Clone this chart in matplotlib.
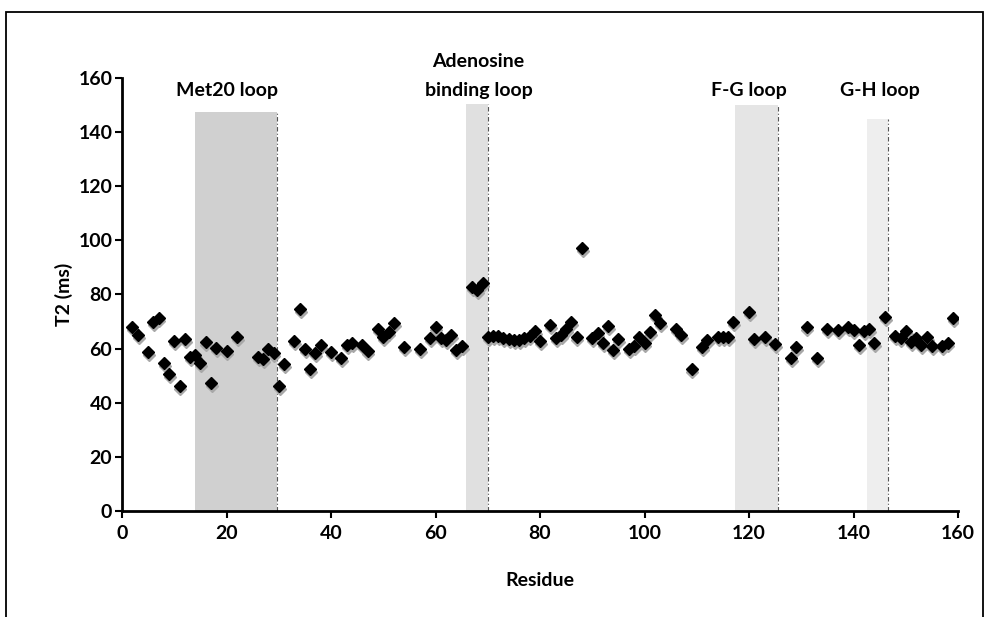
import matplotlib
matplotlib.use("Agg")
import matplotlib.pyplot as plt
import matplotlib.transforms as mtransforms
from matplotlib.patches import Rectangle

plt.rcParams['font.family'] = ['Lato', 'DejaVu Sans']

# T2 relaxation per residue
residue = [2, 3, 5, 6, 7, 8, 9, 10, 11, 12, 13, 14, 15, 16, 17, 18, 20, 22,
           26, 27, 28, 29, 30, 31, 33, 34, 35, 36, 37, 38, 40, 42, 43, 44, 46,
           47, 49, 50, 51, 52, 54, 57, 59, 60, 61, 62, 63, 64, 65, 67, 68, 69,
           70, 71, 72, 73, 74, 75, 76, 77, 78, 79, 80, 82, 83, 84, 85, 86, 87,
           88, 90, 91, 92, 93, 94, 95, 97, 98, 99, 100, 101, 102, 103, 106,
           107, 109, 111, 112, 114, 115, 116, 117, 120, 121, 123, 125, 128,
           129, 131, 133, 135, 137, 139, 140, 141, 142, 143, 144, 146, 148,
           149, 150, 151, 152, 153, 154, 155, 157, 158, 159]
t2_ms = [68.1, 64.9, 58.9, 70.0, 71.4, 54.6, 50.6, 62.7, 46.2, 63.4, 57.0,
         57.6, 54.6, 62.5, 47.4, 60.4, 59.2, 64.4,
         57.0, 56.2, 59.9, 58.3, 46.3, 54.5, 63.0, 74.8, 59.9, 52.4, 58.3,
         61.3, 58.9, 56.4, 61.3, 62.2, 61.3,
         59.0, 67.4, 64.2, 66.3, 69.4, 60.5, 59.8, 64.0, 68.1, 63.8, 63.2,
         65.0, 59.5, 61.0, 82.7, 81.7, 84.1,
         64.4, 64.7, 64.7, 64.0, 63.4, 63.2, 63.2, 63.8, 64.8, 66.6, 63.0,
         68.7, 63.8, 65.0, 67.1, 70.0, 64.4,
         97.1, 63.8, 65.9, 62.0, 68.4, 59.5, 63.4, 59.8, 61.0, 64.4, 62.0,
         66.3, 72.4, 69.6, 67.3,
         65.0, 52.5, 60.7, 63.2, 64.2, 64.2, 64.4, 70.0, 73.4, 63.4, 64.4,
         61.7, 56.4,
         60.5, 67.9, 56.7, 67.1, 66.9, 68.1, 66.9, 61.3, 66.6, 67.1, 62.0,
         71.6, 64.7,
         63.8, 66.6, 62.6, 63.8, 61.3, 64.4, 61.0, 61.0, 62.2, 71.4]

# Loop regions: name, start, end, top, shade, label x
loop_names = ["Met20 loop", "Adenosine\nbinding loop", "F-G loop", "G-H loop"]
loop_start = [14.0, 65.8, 117.3, 142.6]
loop_end = [29.6, 70.0, 125.6, 146.6]
loop_top = [147.5, 150.5, 150.0, 145.0]
loop_shade = ["#d0d0d0", "#e0e0e0", "#e5e5e5", "#eeeeee"]
loop_label_x = [20.0, 68.2, 120.0, 145.0]

x_ticks = [0, 20, 40, 60, 80, 100, 120, 140, 160]
y_ticks = [0, 20, 40, 60, 80, 100, 120, 140, 160]

fig = plt.figure(figsize=(9.89, 6.17), dpi=100)
ax = fig.add_axes([0.1234, 0.1718, 0.8453, 0.7018])

# outer frame around the whole figure
fig.patches.append(Rectangle((6 / 989, -0.05), (983 - 6) / 989, 1.05 - 12.5 / 617,
                             transform=fig.transFigure, fill=False,
                             edgecolor="black", linewidth=1.3))

for name, x0, x1, top, shade, lx in zip(loop_names, loop_start, loop_end,
                                         loop_top, loop_shade, loop_label_x):
    ax.add_patch(Rectangle((x0, 0), x1 - x0, top, facecolor=shade,
                           edgecolor="none", zorder=1))
    ax.plot([x1, x1], [0, top], color="#555555", linewidth=0.8,
            linestyle=(0, (4, 2, 1, 2)), zorder=1.5)
    # last line of each label sits on a common baseline
    ax.text(lx, 153.2, name, ha="center", va="baseline", fontsize=14,
            fontweight="bold", linespacing=1.9, zorder=3)

# soft shadow under each marker
shadow = ax.transData + mtransforms.ScaledTranslation(0.6 / 72, -2.2 / 72,
                                                      fig.dpi_scale_trans)
ax.plot(residue, t2_ms, linestyle="none", marker="D", markersize=6,
        color="#a8a8a8", transform=shadow, zorder=2)
ax.plot(residue, t2_ms, linestyle="none", marker="D", markersize=6.3,
        color="black", zorder=2.5)

ax.set_xlim(0, 160)
ax.set_ylim(0, 160)
ax.set_xticks(x_ticks)
ax.set_yticks(y_ticks)
ax.set_xticklabels([str(v) for v in x_ticks], fontsize=14, fontweight="bold")
ax.set_yticklabels([str(v) for v in y_ticks], fontsize=14, fontweight="bold")
ax.tick_params(axis="both", direction="out", length=5, width=1.5, color="black")
ax.tick_params(axis="x", pad=5)
ax.tick_params(axis="y", pad=2)
for side in ("top", "right"):
    ax.spines[side].set_visible(False)
for side in ("left", "bottom"):
    ax.spines[side].set_linewidth(2)
ax.set_xlabel("Residue", fontsize=14, fontweight="bold", labelpad=22)
ax.set_ylabel("T2 (ms)", fontsize=14, fontweight="bold", labelpad=4)
ax.set_facecolor("white")
ax.patch.set_visible(False)

fig.savefig("out.png", dpi=100)
